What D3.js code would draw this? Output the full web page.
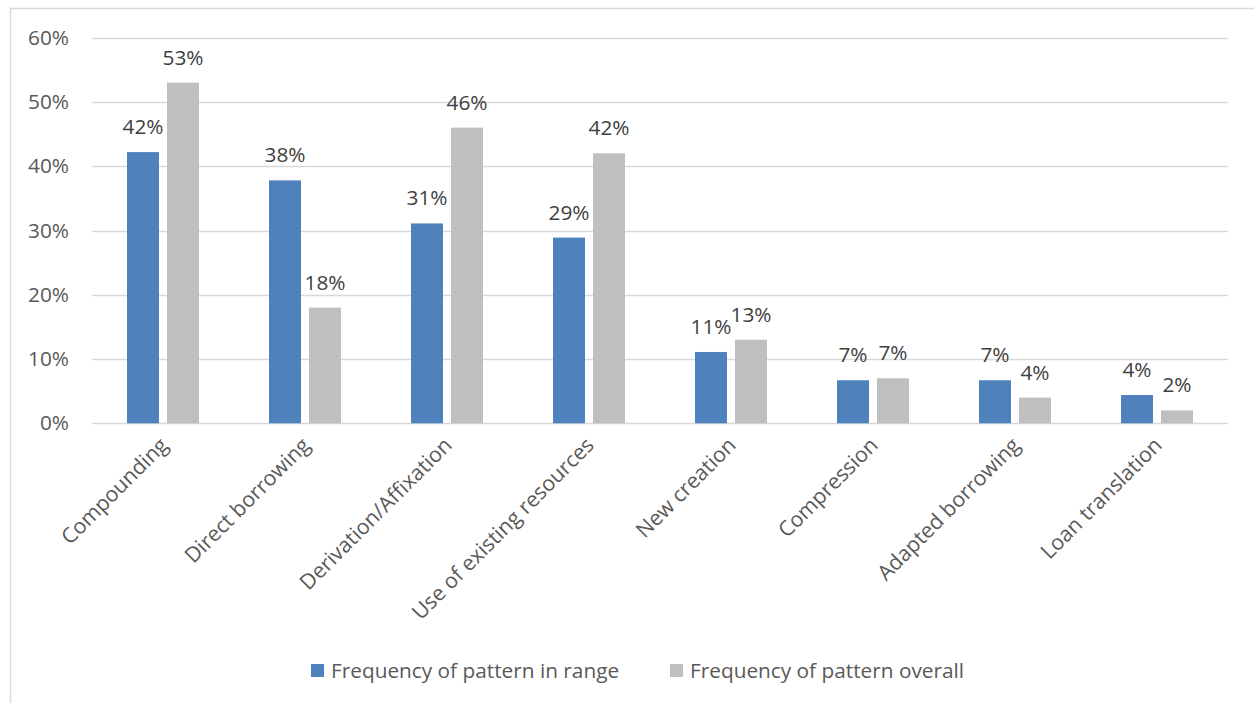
<!DOCTYPE html>
<html>
<head>
<meta charset="utf-8">
<script src="https://cdn.jsdelivr.net/npm/d3@7"></script>
<style>
  body { margin: 0; background: #fff; }
  text { font-family: "Open Sans", sans-serif; }
</style>
</head>
<body>
<div id="chart"></div>
<script>
// data
let categories = ["Compounding", "Direct borrowing", "Derivation/Affixation", "Use of existing resources",
                  "New creation", "Compression", "Adapted borrowing", "Loan translation"];
let seriesNames = ["Frequency of pattern in range", "Frequency of pattern overall"];
let inRange = [0.422, 0.378, 0.311, 0.289, 0.111, 0.067, 0.067, 0.044];
let overall = [0.53, 0.18, 0.46, 0.42, 0.13, 0.07, 0.04, 0.02];
let yTicks = [0, 0.1, 0.2, 0.3, 0.4, 0.5, 0.6];
let colors = ["#4F81BD", "#BFBFBF"];

let width = 1254, height = 703;
let fontSize = 20.8;

let svg = d3.select("#chart").append("svg")
    .attr("width", width)
    .attr("height", height);

// chart frame (runs off the right and bottom edge)
svg.append("rect")
    .attr("x", 10.5).attr("y", 8.5)
    .attr("width", 1400).attr("height", 900)
    .attr("fill", "none")
    .attr("stroke", "#D9D9D9")
    .attr("stroke-width", 1.5);

let xScale = d3.scaleBand().domain(categories).range([92, 1228]);
let yScale = d3.scaleLinear().domain([0, 0.6]).range([423.3, 37.7]);
let subScale = d3.scaleBand().domain(seriesNames)
    .range([xScale.bandwidth() / 2 - 36, xScale.bandwidth() / 2 + 36])
    .paddingInner(0.2);

/** gridlines */
svg.append("g").selectAll("line")
    .data(yTicks)
    .enter().append("line")
    .attr("x1", 92).attr("x2", 1228)
    .attr("y1", d => Math.round(yScale(d)) + 0.5)
    .attr("y2", d => Math.round(yScale(d)) + 0.5)
    .attr("stroke", "#D9D9D9")
    .attr("stroke-width", 1.3);

/** y axis labels */
let yAxis = d3.axisLeft(yScale).tickValues(yTicks).tickFormat(d3.format(".0%")).tickSize(0).tickPadding(0);
let yAx = svg.append("g")
    .attr("transform", "translate(69,0)")
    .call(yAxis);
yAx.select(".domain").remove();
yAx.selectAll("text")
    .attr("fill", "#595959")
    .style("font-size", fontSize + "px")
    .style("font-family", "'Open Sans', sans-serif");

/** bars */
let series = [inRange, overall];
let fmt = d3.format(".0%");
series.forEach((vals, s) => {
    let g = svg.append("g");
    g.selectAll("rect")
        .data(vals)
        .enter().append("rect")
        .attr("x", (d, i) => xScale(categories[i]) + subScale(seriesNames[s]))
        .attr("y", d => yScale(d))
        .attr("width", subScale.bandwidth())
        .attr("height", d => yScale(0) - yScale(d))
        .attr("fill", colors[s]);

    g.selectAll("text")
        .data(vals)
        .enter().append("text")
        .attr("x", (d, i) => xScale(categories[i]) + subScale(seriesNames[s]) + subScale.bandwidth() / 2)
        .attr("y", d => yScale(d) - 18)
        .attr("text-anchor", "middle")
        .attr("fill", "#404040")
        .style("font-size", fontSize + "px")
        .text(d => fmt(d));
});

/** x axis labels, rotated */
let xAx = svg.append("g")
    .attr("transform", "translate(0," + yScale(0) + ")")
    .call(d3.axisBottom(xScale).tickSize(0).tickPadding(0));
xAx.select(".domain").remove();
xAx.selectAll("text")
    .attr("fill", "#595959")
    .style("font-size", "21.2px")
    .style("font-family", "'Open Sans', sans-serif")
    .style("text-anchor", "end")
    .attr("y", 0)
    .attr("dy", "0.75em")
    .attr("transform", "translate(-5,12) rotate(-45)");

/** legend */
let legend = svg.append("g");
let legendX = [311, 670];
seriesNames.forEach((name, s) => {
    legend.append("rect")
        .attr("x", legendX[s]).attr("y", 664)
        .attr("width", 13).attr("height", 13)
        .attr("fill", colors[s]);
    legend.append("text")
        .attr("x", legendX[s] + 20).attr("y", 678)
        .attr("fill", "#595959")
        .style("font-size", fontSize + "px")
        .text(name);
});
</script>
</body>
</html>
